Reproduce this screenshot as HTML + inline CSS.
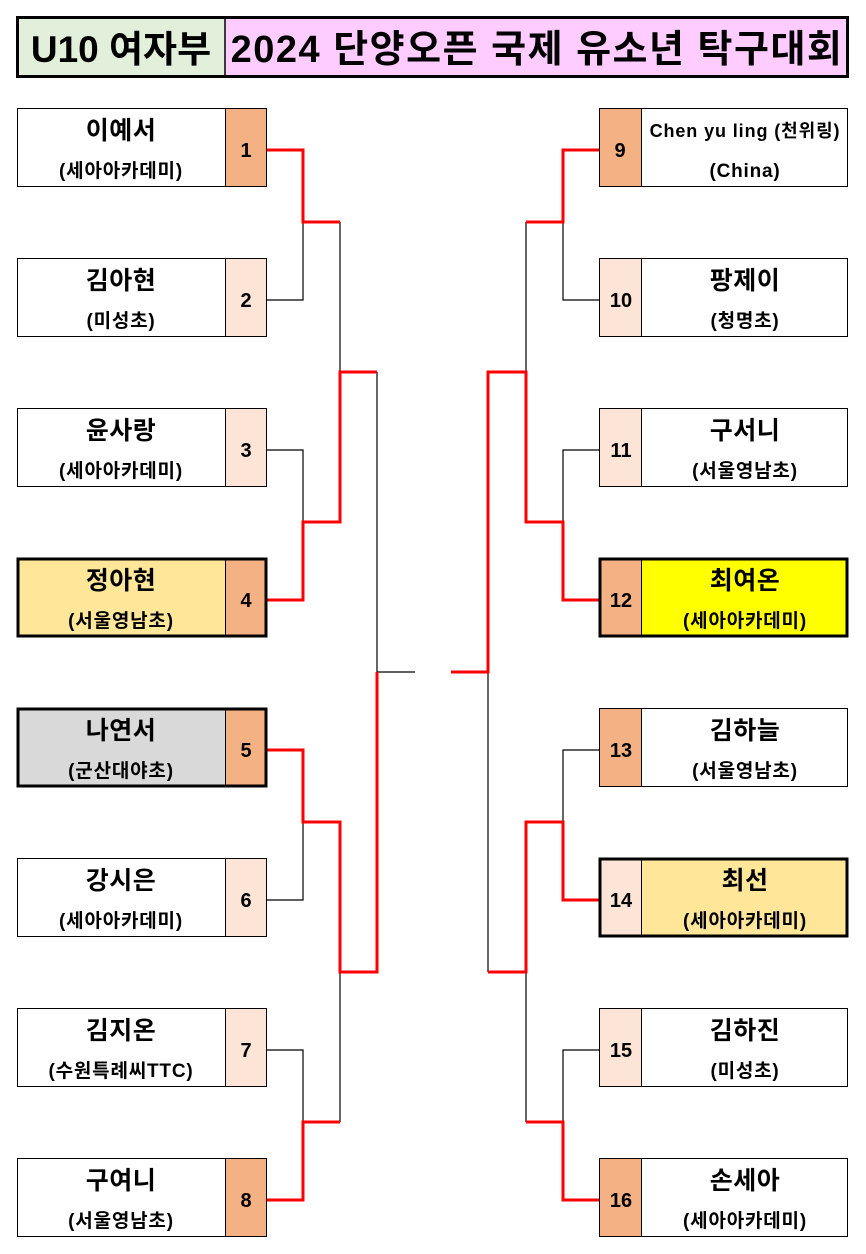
<!DOCTYPE html>
<html><head><meta charset="utf-8"><style>
html,body{margin:0;padding:0;background:#fff;width:866px;height:1254px;overflow:hidden}
svg text{font-family:"Liberation Sans","Noto Sans CJK KR","NanumGothic",sans-serif;font-weight:bold;fill:#000}
.n{font-size:25px;letter-spacing:0.5px}
.s{font-size:19px;letter-spacing:0.8px}
</style></head><body>
<svg width="866" height="1254" xmlns="http://www.w3.org/2000/svg">
<rect x="18.5" y="18.5" width="207" height="58" fill="#e2efda"/>
<rect x="225.5" y="18.5" width="621" height="58" fill="#ffccff"/>
<rect x="17.5" y="17.5" width="830" height="59" fill="none" stroke="#000" stroke-width="3"/>
<line x1="225" y1="17" x2="225" y2="77" stroke="#000" stroke-width="1.5"/>
<text x="121" y="62" font-size="37" text-anchor="middle">U10 여자부</text>
<text x="537" y="62" font-size="38" letter-spacing="1.5" text-anchor="middle">2024 단양오픈 국제 유소년 탁구대회</text>

<g fill="none" stroke="#000" stroke-width="1.2">
<polyline points="267,300 303,300 303,222"/>
<polyline points="267,450 303,450 303,522"/>
<polyline points="340,222 340,372"/>
<polyline points="377,372 377,672 415,672"/>
<polyline points="267,900 303,900 303,822"/>
<polyline points="267,1050 303,1050 303,1122"/>
<polyline points="340,972 340,1122"/>
<polyline points="599,300 563,300 563,222"/>
<polyline points="599,450 563,450 563,522"/>
<polyline points="526,222 526,372"/>
<polyline points="488,672 488,972"/>
<polyline points="599,750 563,750 563,822"/>
<polyline points="599,1050 563,1050 563,1122"/>
<polyline points="526,972 526,1122"/>
</g>
<g fill="none" stroke="#ff0000" stroke-width="3">
<polyline points="267,150 303,150 303,222 340,222"/>
<polyline points="267,600 303,600 303,522 340,522 340,372 377,372"/>
<polyline points="267,750 303,750 303,822 340,822 340,972 377,972 377,672"/>
<polyline points="267,1200 303,1200 303,1122 340,1122"/>
<polyline points="599,150 563,150 563,222 526,222"/>
<polyline points="599,600 563,600 563,522 526,522 526,372 488,372 488,672 451,672"/>
<polyline points="599,900 563,900 563,822 526,822 526,972 488,972"/>
<polyline points="599,1200 563,1200 563,1122 526,1122"/>
</g>

<g>
<rect x="17.5" y="108.5" width="208" height="78" fill="#fff" stroke="#000"/><rect x="225.5" y="108.5" width="41" height="78" fill="#f4b183" stroke="#000"/>
<text x="121" y="139" class="n" text-anchor="middle">이예서</text><text x="121" y="177" class="s" text-anchor="middle">(세아아카데미)</text><text x="246" y="157" font-size="20" text-anchor="middle">1</text>

<rect x="17.5" y="258.5" width="208" height="78" fill="#fff" stroke="#000"/><rect x="225.5" y="258.5" width="41" height="78" fill="#fce4d6" stroke="#000"/>
<text x="121" y="289" class="n" text-anchor="middle">김아현</text><text x="121" y="327" class="s" text-anchor="middle">(미성초)</text><text x="246" y="307" font-size="20" text-anchor="middle">2</text>

<rect x="17.5" y="408.5" width="208" height="78" fill="#fff" stroke="#000"/><rect x="225.5" y="408.5" width="41" height="78" fill="#fce4d6" stroke="#000"/>
<text x="121" y="439" class="n" text-anchor="middle">윤사랑</text><text x="121" y="477" class="s" text-anchor="middle">(세아아카데미)</text><text x="246" y="457" font-size="20" text-anchor="middle">3</text>

<rect x="18.5" y="559.5" width="207" height="76" fill="#ffe699"/><rect x="225.5" y="559.5" width="41" height="76" fill="#f4b183"/>
<line x1="225.5" y1="559" x2="225.5" y2="636" stroke="#000"/>
<rect x="18" y="559" width="248" height="77" fill="none" stroke="#000" stroke-width="3"/>
<text x="121" y="589" class="n" text-anchor="middle">정아현</text><text x="121" y="627" class="s" text-anchor="middle">(서울영남초)</text><text x="246" y="607" font-size="20" text-anchor="middle">4</text>

<rect x="18.5" y="709.5" width="207" height="76" fill="#d9d9d9"/><rect x="225.5" y="709.5" width="41" height="76" fill="#f4b183"/>
<line x1="225.5" y1="709" x2="225.5" y2="786" stroke="#000"/>
<rect x="18" y="709" width="248" height="77" fill="none" stroke="#000" stroke-width="3"/>
<text x="121" y="739" class="n" text-anchor="middle">나연서</text><text x="121" y="777" class="s" text-anchor="middle">(군산대야초)</text><text x="246" y="757" font-size="20" text-anchor="middle">5</text>

<rect x="17.5" y="858.5" width="208" height="78" fill="#fff" stroke="#000"/><rect x="225.5" y="858.5" width="41" height="78" fill="#fce4d6" stroke="#000"/>
<text x="121" y="889" class="n" text-anchor="middle">강시은</text><text x="121" y="927" class="s" text-anchor="middle">(세아아카데미)</text><text x="246" y="907" font-size="20" text-anchor="middle">6</text>

<rect x="17.5" y="1008.5" width="208" height="78" fill="#fff" stroke="#000"/><rect x="225.5" y="1008.5" width="41" height="78" fill="#fce4d6" stroke="#000"/>
<text x="121" y="1039" class="n" text-anchor="middle">김지온</text><text x="121" y="1077" class="s" text-anchor="middle">(수원특례씨TTC)</text><text x="246" y="1057" font-size="20" text-anchor="middle">7</text>

<rect x="17.5" y="1158.5" width="208" height="78" fill="#fff" stroke="#000"/><rect x="225.5" y="1158.5" width="41" height="78" fill="#f4b183" stroke="#000"/>
<text x="121" y="1189" class="n" text-anchor="middle">구여니</text><text x="121" y="1227" class="s" text-anchor="middle">(서울영남초)</text><text x="246" y="1207" font-size="20" text-anchor="middle">8</text>

<rect x="599.5" y="108.5" width="42" height="78" fill="#f4b183" stroke="#000"/><rect x="641.5" y="108.5" width="206" height="78" fill="#fff" stroke="#000"/>
<text x="745" y="137" font-size="18" letter-spacing="0.9" text-anchor="middle">Chen yu ling (천위링)</text><text x="745" y="177" class="s" text-anchor="middle">(China)</text><text x="620" y="157" font-size="20" text-anchor="middle">9</text>

<rect x="599.5" y="258.5" width="42" height="78" fill="#fce4d6" stroke="#000"/><rect x="641.5" y="258.5" width="206" height="78" fill="#fff" stroke="#000"/>
<text x="745" y="289" class="n" text-anchor="middle">팡제이</text><text x="745" y="327" class="s" text-anchor="middle">(청명초)</text><text x="621" y="307" font-size="20" text-anchor="middle">10</text>

<rect x="599.5" y="408.5" width="42" height="78" fill="#fce4d6" stroke="#000"/><rect x="641.5" y="408.5" width="206" height="78" fill="#fff" stroke="#000"/>
<text x="745" y="439" class="n" text-anchor="middle">구서니</text><text x="745" y="477" class="s" text-anchor="middle">(서울영남초)</text><text x="621" y="457" font-size="20" text-anchor="middle">11</text>

<rect x="600.5" y="559.5" width="41" height="76" fill="#f4b183"/><rect x="641.5" y="559.5" width="206" height="76" fill="#ffff00"/>
<line x1="641.5" y1="559" x2="641.5" y2="636" stroke="#000"/>
<rect x="600" y="559" width="247" height="77" fill="none" stroke="#000" stroke-width="3"/>
<text x="745" y="589" class="n" text-anchor="middle">최여온</text><text x="745" y="627" class="s" text-anchor="middle">(세아아카데미)</text><text x="621" y="607" font-size="20" text-anchor="middle">12</text>

<rect x="599.5" y="708.5" width="42" height="78" fill="#f4b183" stroke="#000"/><rect x="641.5" y="708.5" width="206" height="78" fill="#fff" stroke="#000"/>
<text x="745" y="739" class="n" text-anchor="middle">김하늘</text><text x="745" y="777" class="s" text-anchor="middle">(서울영남초)</text><text x="621" y="757" font-size="20" text-anchor="middle">13</text>

<rect x="600.5" y="859.5" width="41" height="76" fill="#fce4d6"/><rect x="641.5" y="859.5" width="206" height="76" fill="#ffe699"/>
<line x1="641.5" y1="859" x2="641.5" y2="936" stroke="#000"/>
<rect x="600" y="859" width="247" height="77" fill="none" stroke="#000" stroke-width="3"/>
<text x="745" y="889" class="n" text-anchor="middle">최선</text><text x="745" y="927" class="s" text-anchor="middle">(세아아카데미)</text><text x="621" y="907" font-size="20" text-anchor="middle">14</text>

<rect x="599.5" y="1008.5" width="42" height="78" fill="#fce4d6" stroke="#000"/><rect x="641.5" y="1008.5" width="206" height="78" fill="#fff" stroke="#000"/>
<text x="745" y="1039" class="n" text-anchor="middle">김하진</text><text x="745" y="1077" class="s" text-anchor="middle">(미성초)</text><text x="621" y="1057" font-size="20" text-anchor="middle">15</text>

<rect x="599.5" y="1158.5" width="42" height="78" fill="#f4b183" stroke="#000"/><rect x="641.5" y="1158.5" width="206" height="78" fill="#fff" stroke="#000"/>
<text x="745" y="1189" class="n" text-anchor="middle">손세아</text><text x="745" y="1227" class="s" text-anchor="middle">(세아아카데미)</text><text x="621" y="1207" font-size="20" text-anchor="middle">16</text>
</g>
</svg>
</body></html>
